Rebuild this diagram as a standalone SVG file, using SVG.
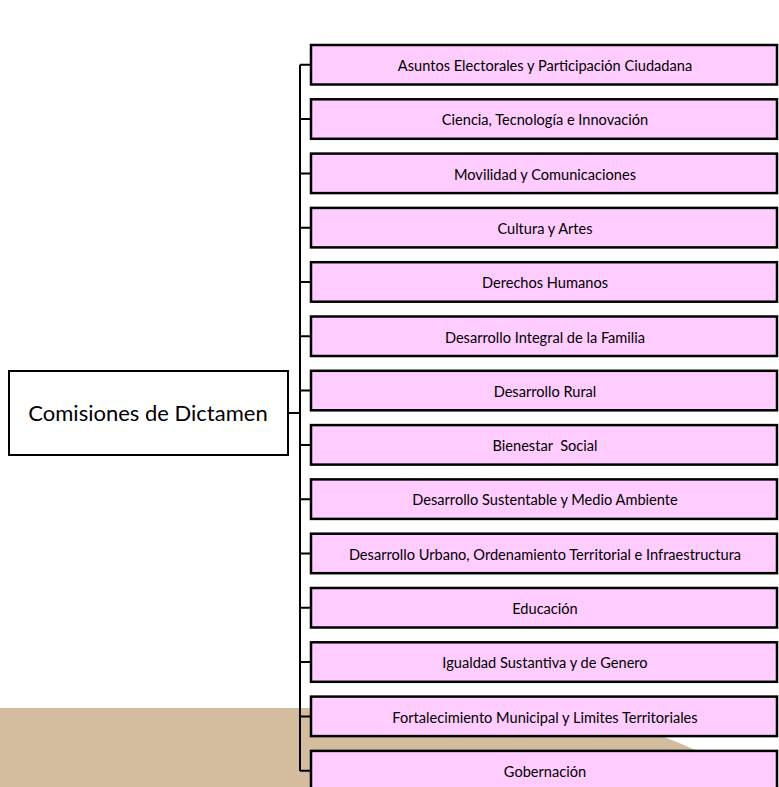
<svg xmlns="http://www.w3.org/2000/svg" width="779" height="787" viewBox="0 0 779 787">
<style>
.bx{fill:#FFCCFF;stroke:#000;stroke-width:2.5}
.rt{fill:#fff;stroke:#000;stroke-width:2}
.t{font-family:Lato,"Liberation Sans",sans-serif;font-size:14.6px;fill:#000;text-anchor:middle;white-space:pre}
.tr{font-family:Lato,"Liberation Sans",sans-serif;font-size:22px;fill:#000;text-anchor:middle}
.c{fill:none;stroke:#000;stroke-width:2}
</style>
<rect x="0" y="0" width="779" height="787" fill="#fff"/>
<path d="M0 708 L560 708 C610 716 650 730 700 752 L779 787 L0 787 Z" fill="#D4BD9F"/>
<g id="connectors">
<path class="c" d="M288 413 H300 M300 64.8 V771 M300 64.8 H311 M300 119.1 H311 M300 173.4 H311 M300 227.7 H311 M300 282 H311 M300 336.3 H311 M300 390.6 H311 M300 444.9 H311 M300 499.2 H311 M300 553.5 H311 M300 607.8 H311 M300 662.1 H311 M300 716.4 H311 M300 770.7 H311"/>
</g>
<g id="root"><rect class="rt" x="9" y="371" width="279" height="84"/><text class="tr" x="148" y="421">Comisiones de Dictamen</text></g>
<g id="n1"><rect class="bx" x="311" y="45" width="466" height="39.5"/><text class="t" x="545" y="71">Asuntos Electorales y Participación Ciudadana</text></g>
<g id="n2"><rect class="bx" x="311" y="99.3" width="466" height="39.5"/><text class="t" x="545" y="125.3">Ciencia, Tecnología e Innovación</text></g>
<g id="n3"><rect class="bx" x="311" y="153.6" width="466" height="39.5"/><text class="t" x="545" y="179.6">Movilidad y Comunicaciones</text></g>
<g id="n4"><rect class="bx" x="311" y="207.9" width="466" height="39.5"/><text class="t" x="545" y="233.9">Cultura y Artes</text></g>
<g id="n5"><rect class="bx" x="311" y="262.2" width="466" height="39.5"/><text class="t" x="545" y="288.2">Derechos Humanos</text></g>
<g id="n6"><rect class="bx" x="311" y="316.5" width="466" height="39.5"/><text class="t" x="545" y="342.5">Desarrollo Integral de la Familia</text></g>
<g id="n7"><rect class="bx" x="311" y="370.8" width="466" height="39.5"/><text class="t" x="545" y="396.8">Desarrollo Rural</text></g>
<g id="n8"><rect class="bx" x="311" y="425.1" width="466" height="39.5"/><text class="t" x="545" y="451.1">Bienestar  Social</text></g>
<g id="n9"><rect class="bx" x="311" y="479.4" width="466" height="39.5"/><text class="t" x="545" y="505.4">Desarrollo Sustentable y Medio Ambiente</text></g>
<g id="n10"><rect class="bx" x="311" y="533.7" width="466" height="39.5"/><text class="t" x="545" y="559.7">Desarrollo Urbano, Ordenamiento Territorial e Infraestructura</text></g>
<g id="n11"><rect class="bx" x="311" y="588" width="466" height="39.5"/><text class="t" x="545" y="614">Educación</text></g>
<g id="n12"><rect class="bx" x="311" y="642.3" width="466" height="39.5"/><text class="t" x="545" y="668.3">Igualdad Sustantiva y de Genero</text></g>
<g id="n13"><rect class="bx" x="311" y="696.6" width="466" height="39.5"/><text class="t" x="545" y="722.6">Fortalecimiento Municipal y Limites Territoriales</text></g>
<g id="n14"><rect class="bx" x="311" y="750.9" width="466" height="39.5"/><text class="t" x="545" y="776.9">Gobernación</text></g>
</svg>
